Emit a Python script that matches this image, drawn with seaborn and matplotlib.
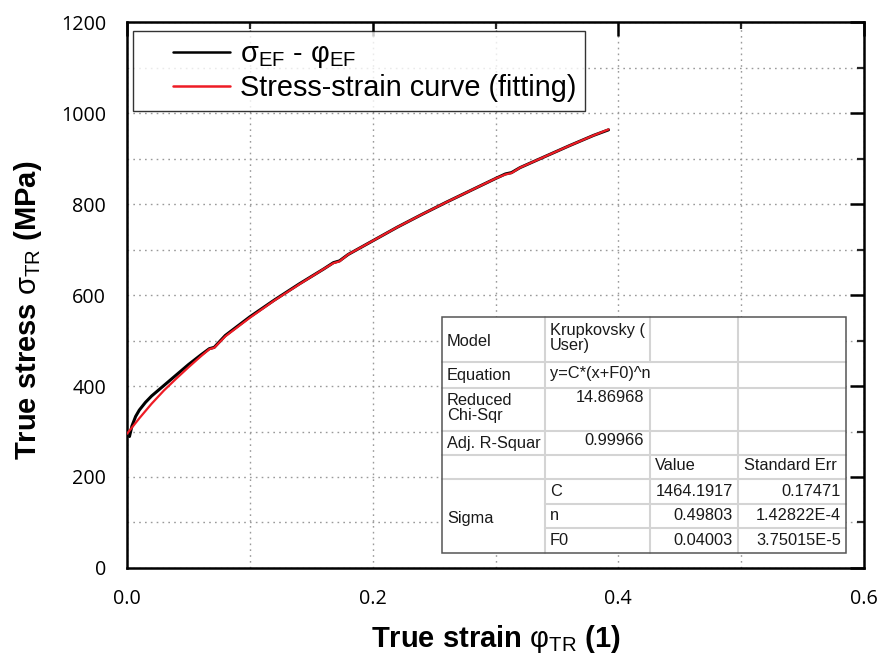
import matplotlib
matplotlib.use("Agg")
import matplotlib.pyplot as plt
import seaborn as sns
import pandas as pd
from matplotlib.patches import Rectangle
from matplotlib.ticker import MultipleLocator
from matplotlib.legend_handler import HandlerLine2D

# ---------------- data ----------------
exp_strain = [0.002, 0.004, 0.007, 0.010, 0.015, 0.020, 0.030, 0.040, 0.050, 0.060,
              0.067, 0.071, 0.080, 0.100, 0.120, 0.140, 0.160, 0.168, 0.173,
              0.180, 0.200, 0.220, 0.240, 0.260, 0.280, 0.300, 0.308, 0.313,
              0.320, 0.340, 0.360, 0.380, 0.392]
exp_stress = [289, 312, 333, 347, 364, 378, 401, 424, 447, 468,
              482, 485, 511, 552, 589, 624, 657, 671, 675,
              689, 719, 749, 777, 804, 830, 856, 866, 869,
              880, 904, 928, 951, 963]

fit_strain = [0.000, 0.010, 0.020, 0.030, 0.040, 0.050, 0.060, 0.067, 0.071,
              0.080, 0.100, 0.120, 0.140, 0.160, 0.168, 0.173, 0.180, 0.200,
              0.220, 0.240, 0.260, 0.280, 0.300, 0.308, 0.313, 0.320, 0.340,
              0.360, 0.380, 0.392]
fit_stress = [295, 329, 361, 390, 416, 441, 465, 481, 484,
              509, 550, 588, 623, 657, 670, 674, 689, 719,
              749, 777, 804, 830, 856, 865, 868, 880, 904,
              928, 951, 964]

legend_labels = [r"$\mathrm{\sigma_{EF}}$ - $\mathrm{\varphi_{EF}}$",
                 "Stress-strain curve (fitting)"]

table_rows = [
    ["Model", "Krupkovsky (\nUser)", "", ""],
    ["Equation", "y=C*(x+F0)^n", "", ""],
    ["Reduced\nChi-Sqr", "14.86968", "", ""],
    ["Adj. R-Squar", "0.99966", "", ""],
    ["", "", "Value", "Standard Err"],
]
param_names = ["C", "n", "F0"]
param_values = ["1464.1917", "0.49803", "0.04003"]
param_errors = ["0.17471", "1.42822E-4", "3.75015E-5"]

# ---------------- style ----------------
sns.set_theme(style="white")
plt.rcParams["font.family"] = ["Liberation Sans", "DejaVu Sans"]
plt.rcParams["text.color"] = "black"
plt.rcParams["axes.labelcolor"] = "black"
plt.rcParams["mathtext.fontset"] = "custom"
plt.rcParams["mathtext.rm"] = "Liberation Sans"
plt.rcParams["mathtext.it"] = "Liberation Sans:italic"
plt.rcParams["mathtext.bf"] = "Liberation Sans:bold"

fig = plt.figure(figsize=(8.82, 6.61), dpi=100)
ax = fig.add_axes([0.144, 0.1407, 0.8356, 0.826])

df_exp = pd.DataFrame({"strain": exp_strain, "stress": exp_stress})
df_fit = pd.DataFrame({"strain": fit_strain, "stress": fit_stress})

sns.lineplot(data=df_exp, x="strain", y="stress", ax=ax, color="black",
             linewidth=2.2, sort=False, estimator=None, label=legend_labels[0], zorder=3)
sns.lineplot(data=df_fit, x="strain", y="stress", ax=ax, color="#ee1c25",
             linewidth=1.6, sort=False, estimator=None, label=legend_labels[1], zorder=4)

ax.set_xlim(0, 0.6)
ax.set_ylim(0, 1200)
ax.xaxis.set_minor_locator(MultipleLocator(0.1))
ax.yaxis.set_minor_locator(MultipleLocator(100))
ax.set_xticks([0.0, 0.2, 0.4, 0.6])
ax.set_xticklabels(["0.0", "0.2", "0.4", "0.6"])
ax.set_yticks([0, 200, 400, 600, 800, 1000, 1200])
ax.set_yticklabels(["0", "200", "400", "600", "800", "1000", "1200"])

ax.grid(which="both", linestyle=(0, (1.2, 3)), color="#9a9a9a", linewidth=1.0, zorder=0)

for s in ax.spines.values():
    s.set_linewidth(1.8)
    s.set_color("black")

ax.tick_params(which="major", direction="out", length=10, width=1.8,
               colors="black", pad=5, top=True, right=True)
ax.tick_params(which="minor", direction="out", length=5, width=1.6,
               top=True, right=True)
for lab in ax.get_xticklabels() + ax.get_yticklabels():
    lab.set_fontfamily(["Open Sans", "DejaVu Sans"])
    lab.set_fontsize(14.2)
    lab.set_color("black")
for t in ax.xaxis.get_major_ticks() + ax.xaxis.get_minor_ticks():
    t.tick2line.set_marker(3)
for t in ax.yaxis.get_major_ticks() + ax.yaxis.get_minor_ticks():
    t.tick2line.set_marker(0)

ax.set_xlabel(r"True strain $\mathrm{\varphi_{TR}}$ (1)", fontsize=21,
              fontweight="bold", labelpad=10)
ax.set_ylabel(r"True stress $\mathrm{\sigma_{TR}}$ (MPa)", fontsize=21,
              fontweight="bold")
ax.yaxis.set_label_coords(-0.112, 0.4725)


class OffsetLineHandler(HandlerLine2D):
    """Legend line that starts part-way into the handle box (Origin style)."""
    def get_xdata(self, legend, xdescent, ydescent, width, height, fontsize):
        x0 = -xdescent + 0.36 * width
        x1 = -xdescent + width
        return [x0, x1], [0.5 * (x0 + x1)]


leg = ax.legend(loc="upper left", bbox_to_anchor=(0.008, 0.983), fontsize=20.8,
                frameon=True, fancybox=False, edgecolor="black", handlelength=3.05,
                handletextpad=0.35, borderpad=0.3, labelspacing=0.15,
                borderaxespad=0, handler_map={plt.Line2D: OffsetLineHandler()})
leg.get_frame().set_linewidth(1.0)
leg.set_zorder(10)
for line in leg.get_lines():
    line.set_linewidth(1.8)

# ---------------- stats table ----------------
def ax_x(px):
    return (px - 127) / 737.0

def ax_y(py):
    return (568 - py) / 546.0

col_px = [442, 545, 650, 738, 846]
row_px = [317, 362, 388, 431, 455, 479, 504, 528, 553]
tr = ax.transAxes
tz = 20

ax.add_patch(Rectangle((ax_x(col_px[0]), ax_y(row_px[-1])),
                       ax_x(col_px[-1]) - ax_x(col_px[0]),
                       ax_y(row_px[0]) - ax_y(row_px[-1]),
                       transform=tr, facecolor="white", edgecolor="none", zorder=tz))

inner = dict(color="#d4d4d4", linewidth=1.5, transform=tr, zorder=tz + 1)
for i, py in enumerate(row_px[1:-1], start=1):
    x0 = col_px[0] if i <= 5 else col_px[1]
    ax.plot([ax_x(x0), ax_x(col_px[-1])], [ax_y(py), ax_y(py)], **inner)
for j, px in enumerate(col_px[1:-1], start=1):
    for i in range(len(row_px) - 1):
        if i == 1 and j == 2:
            continue
        ax.plot([ax_x(px), ax_x(px)], [ax_y(row_px[i]), ax_y(row_px[i + 1])], **inner)

ax.add_patch(Rectangle((ax_x(col_px[0]), ax_y(row_px[-1])),
                       ax_x(col_px[-1]) - ax_x(col_px[0]),
                       ax_y(row_px[0]) - ax_y(row_px[-1]),
                       transform=tr, facecolor="none", edgecolor="#555555",
                       linewidth=1.1, zorder=tz + 2))

tfs = 11.8
tkw = dict(transform=tr, fontsize=tfs, color="#1a1a1a", zorder=tz + 3)
ax.text(ax_x(447), ax_y(341), table_rows[0][0], va="center", ha="left", **tkw)
ax.text(ax_x(447), ax_y(375), table_rows[1][0], va="center", ha="left", **tkw)
ax.text(ax_x(447), ax_y(408), table_rows[2][0], va="center", ha="left",
        linespacing=1.0, **tkw)
ax.text(ax_x(447), ax_y(443), table_rows[3][0], va="center", ha="left", **tkw)
ax.text(ax_x(447), ax_y(519), "Sigma", va="center", ha="left", **tkw)
ax.text(ax_x(550), ax_y(338), table_rows[0][1], va="center", ha="left",
        linespacing=1.0, **tkw)
ax.text(ax_x(550), ax_y(373), table_rows[1][1], va="center", ha="left", **tkw)
ax.text(ax_x(644), ax_y(397), table_rows[2][1], va="center", ha="right", **tkw)
ax.text(ax_x(644), ax_y(440), table_rows[3][1], va="center", ha="right", **tkw)
ax.text(ax_x(655), ax_y(466), table_rows[4][2], va="center", ha="left", **tkw)
ax.text(ax_x(744), ax_y(466), table_rows[4][3], va="center", ha="left", **tkw)
for k, (nm, val, err) in enumerate(zip(param_names, param_values, param_errors)):
    yc = ax_y((row_px[5 + k] + row_px[6 + k]) / 2)
    ax.text(ax_x(550), yc, nm, va="center", ha="left", **tkw)
    ax.text(ax_x(733), yc, val, va="center", ha="right", **tkw)
    ax.text(ax_x(841), yc, err, va="center", ha="right", **tkw)

fig.savefig("out.png", dpi=100, facecolor="white")
